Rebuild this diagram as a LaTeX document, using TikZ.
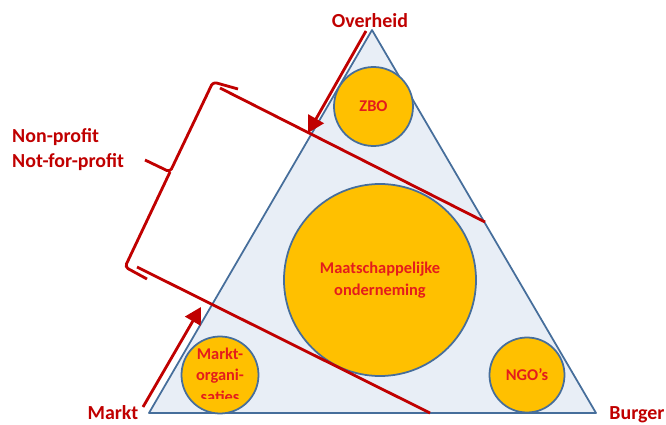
\documentclass[tikz,border=0pt]{standalone}
\usepackage{fontspec}
\setmainfont{Carlito}
\usetikzlibrary{arrows.meta}
\definecolor{darkred}{RGB}{192,0,0}
\definecolor{circred}{RGB}{228,28,28}
\definecolor{orgfill}{RGB}{255,192,0}
\definecolor{edgeblue}{RGB}{70,110,155}
\definecolor{triblue}{RGB}{232,238,246}
\tikzset{
	redline/.style={darkred, line width=2.4pt},
	redarrow/.style={redline, -{Triangle[length=14pt,width=15pt]}},
	org/.style={circle, draw=edgeblue, line width=1.5pt, fill=orgfill, inner sep=0pt, minimum size=#1},
	orgtext/.style={text=circred, font=\bfseries\fontsize{14}{18.5}\selectfont, align=center},
	corner/.style={text=darkred, inner sep=0pt, font=\bfseries\fontsize{17}{20}\selectfont}
}
\begin{document}
\begin{tikzpicture}[x=0.03cm,y=-0.03cm]
				
					\useasboundingbox (0,0) rectangle (666,425);
					
					\coordinate (top) at (372,30);
					\coordinate (left) at (149,413);
					\coordinate (right) at (596,413);
					\draw[edgeblue, line width=1.5pt, fill=triblue, line join=round] (top) -- (left) -- (right) -- cycle;
					
					\node[org=2.37cm, orgtext] (zbo) at (373.5,106.5) {ZBO};
					\node[org=5.76cm, orgtext] (maatsch) at (380,280) {Maatschappelijke\\onderneming};
					\node[org=2.25cm, orgtext] (ngo) at (527,375) {NGO's};
					\node[org=2.31cm] (markt org) at (220,375) {};
					\begin{scope}
						\clip (170,330) rectangle (270,398);
						\node[orgtext] (markt text) at (220,375) {Markt-\\organi-\\saties};
					\end{scope}
					
					\coordinate (upper start) at (220,88);
					\coordinate (upper end) at (485,222);
					\coordinate (lower start) at (137,267);
					\coordinate (lower end) at (430,413);
					\draw[redline] (upper start) -- (upper end);
					\draw[redline] (lower start) -- (lower end);
					
					\coordinate (gov tail) at (366,31);
					\coordinate (gov tip) at (308,133);
					\coordinate (mkt tail) at (143,407);
					\coordinate (mkt tip) at (201,307);
					\draw[redarrow] (gov tail) -- (gov tip);
					\draw[redarrow] (mkt tail) -- (mkt tip);
					
					\coordinate (hook top) at (238,89);
					\coordinate (brace top) at (213,82);
					\coordinate (brace mid) at (170,172);
					\coordinate (brace tip) at (145,160);
					\coordinate (brace bot) at (125,267);
					\coordinate (hook bot) at (147,279);
					\draw[redline, rounded corners=3pt] (hook top) -- (brace top) -- (brace mid) -- (brace tip) (brace mid) -- (brace bot) -- (hook bot);
					
					\node[corner, anchor=base] (overheid) at (370,28) {Overheid};
					\node[corner, anchor=base] (markt) at (113,419) {Markt};
					\node[corner, anchor=base] (burger) at (637,419) {Burger};
					\node[corner, anchor=base west] (nonprofit) at (12,143) {Non-profit};
					\node[corner, anchor=base west] (notforprofit) at (12,168) {Not-for-profit};

				\end{tikzpicture}
\end{document}
